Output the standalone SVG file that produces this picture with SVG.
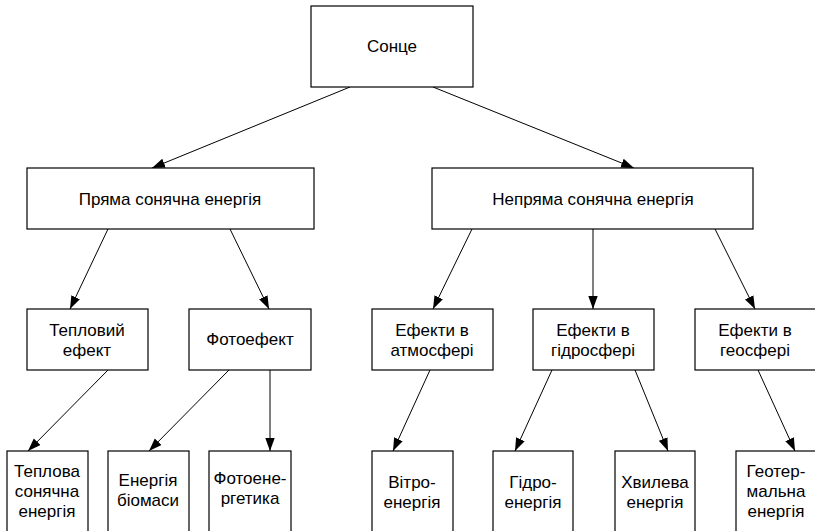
<svg xmlns="http://www.w3.org/2000/svg" width="815" height="531" viewBox="0 0 815 531">
  <style>
    .box { fill: #ffffff; stroke: #000000; stroke-width: 1.2; }
    .lbl { font-family: "Liberation Sans", Arial, sans-serif; font-size: 17px; fill: #000000; text-anchor: middle; }
    .edge { stroke: #000000; stroke-width: 1; fill: none; marker-end: url(#arrow); }
  </style>
  <defs>
    <marker id="arrow" viewBox="0 0 13 10" refX="13" refY="5" markerWidth="13" markerHeight="10" markerUnits="userSpaceOnUse" orient="auto">
      <path d="M0,0.3 L13,5 L0,9.7 Z" fill="#000000"/>
    </marker>
  </defs>

  <rect width="815" height="531" fill="#ffffff"/>

  <!-- connectors -->
  <g id="connectors">
    <line class="edge" x1="350" y1="87" x2="152" y2="168"/>
    <line class="edge" x1="433" y1="87" x2="634" y2="168"/>
    <line class="edge" x1="108" y1="229" x2="70" y2="309"/>
    <line class="edge" x1="230" y1="229" x2="269" y2="309"/>
    <line class="edge" x1="472" y1="229" x2="433" y2="309"/>
    <line class="edge" x1="593" y1="229" x2="593" y2="309"/>
    <line class="edge" x1="715" y1="229" x2="755" y2="309"/>
    <line class="edge" x1="108" y1="370" x2="28" y2="451"/>
    <line class="edge" x1="229" y1="370" x2="149" y2="451"/>
    <line class="edge" x1="270" y1="370" x2="270" y2="451"/>
    <line class="edge" x1="430" y1="370" x2="393" y2="451"/>
    <line class="edge" x1="552" y1="370" x2="515" y2="451"/>
    <line class="edge" x1="635" y1="370" x2="668" y2="451"/>
    <line class="edge" x1="758" y1="370" x2="795" y2="451"/>
  </g>

  <g id="sun">
    <rect class="box" x="311" y="6" width="162" height="81"/>
    <text class="lbl" x="392" y="52">Сонце</text>
  </g>

  <g id="direct">
    <rect class="box" x="27" y="168" width="287" height="61"/>
    <text class="lbl" x="170" y="205">Пряма сонячна енергія</text>
  </g>
  <g id="indirect">
    <rect class="box" x="432" y="168" width="321" height="61"/>
    <text class="lbl" x="593" y="205">Непряма сонячна енергія</text>
  </g>

  <g id="thermal-effect">
    <rect class="box" x="27" y="309" width="121" height="61"/>
    <text class="lbl" x="87" y="336">Тепловий</text>
    <text class="lbl" x="87" y="356">ефект</text>
  </g>
  <g id="photo-effect">
    <rect class="box" x="189" y="309" width="122" height="61"/>
    <text class="lbl" x="250" y="345">Фотоефект</text>
  </g>
  <g id="atmosphere">
    <rect class="box" x="372" y="309" width="121" height="61"/>
    <text class="lbl" x="432" y="336">Ефекти в</text>
    <text class="lbl" x="432" y="356">атмосфері</text>
  </g>
  <g id="hydrosphere">
    <rect class="box" x="533" y="309" width="121" height="61"/>
    <text class="lbl" x="593" y="336">Ефекти в</text>
    <text class="lbl" x="593" y="356">гідросфері</text>
  </g>
  <g id="geosphere">
    <rect class="box" x="695" y="309" width="121" height="61"/>
    <text class="lbl" x="755" y="336">Ефекти в</text>
    <text class="lbl" x="755" y="356">геосфері</text>
  </g>

  <g id="solar-thermal">
    <rect class="box" x="7" y="451" width="81" height="90"/>
    <text class="lbl" x="47" y="477">Теплова</text>
    <text class="lbl" x="47" y="497">сонячна</text>
    <text class="lbl" x="47" y="517">енергія</text>
  </g>
  <g id="biomass">
    <rect class="box" x="108" y="451" width="81" height="90"/>
    <text class="lbl" x="148" y="486">Енергія</text>
    <text class="lbl" x="148" y="506">біомаси</text>
  </g>
  <g id="photovoltaics">
    <rect class="box" x="209" y="451" width="82" height="90"/>
    <text class="lbl" x="250" y="484">Фотоене-</text>
    <text class="lbl" x="250" y="504">ргетика</text>
  </g>
  <g id="wind">
    <rect class="box" x="372" y="451" width="81" height="90"/>
    <text class="lbl" x="412" y="488">Вітро-</text>
    <text class="lbl" x="412" y="508">енергія</text>
  </g>
  <g id="hydro">
    <rect class="box" x="493" y="451" width="80" height="90"/>
    <text class="lbl" x="533" y="488">Гідро-</text>
    <text class="lbl" x="533" y="508">енергія</text>
  </g>
  <g id="wave">
    <rect class="box" x="615" y="451" width="80" height="90"/>
    <text class="lbl" x="655" y="488">Хвилева</text>
    <text class="lbl" x="655" y="508">енергія</text>
  </g>
  <g id="geothermal">
    <rect class="box" x="736" y="451" width="81" height="90"/>
    <text class="lbl" x="776" y="477">Геотер-</text>
    <text class="lbl" x="776" y="497">мальна</text>
    <text class="lbl" x="776" y="517">енергія</text>
  </g>
</svg>
